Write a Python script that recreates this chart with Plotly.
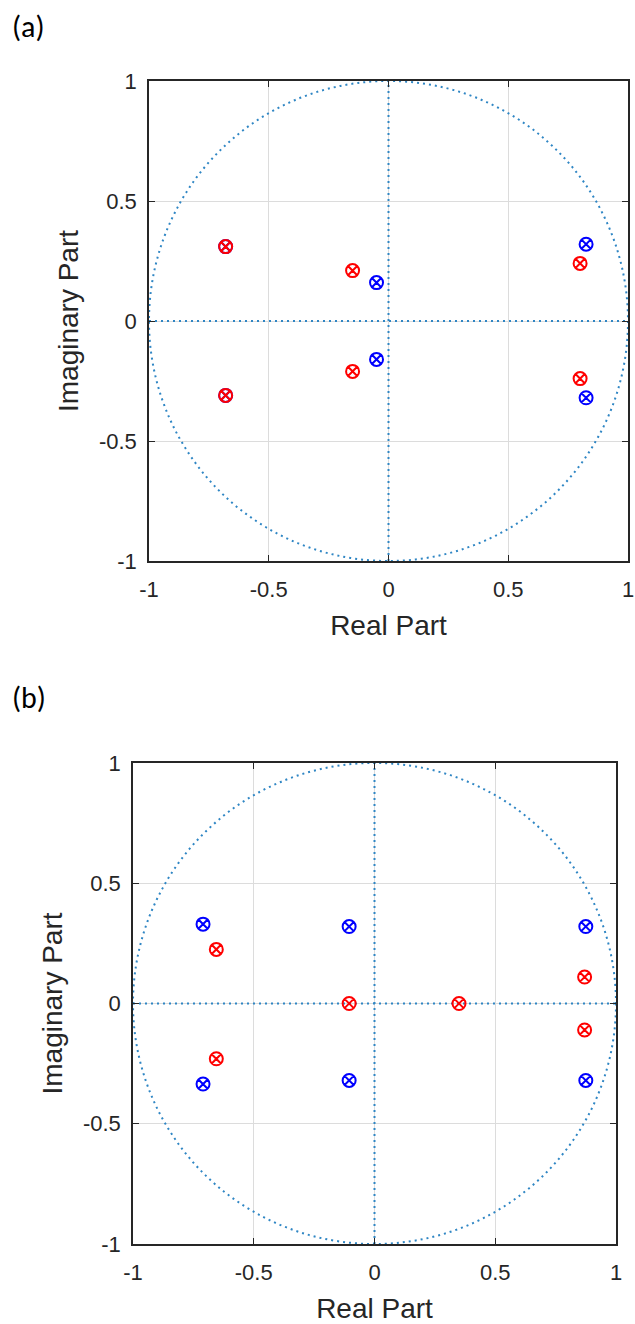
import plotly.graph_objects as go

# ---- data: pole/zero locations ----
a_blue_re = [0.825, 0.825, -0.05, -0.05, -0.68, -0.68]
a_blue_im = [0.32, -0.32, 0.16, -0.16, 0.31, -0.31]
a_red_re = [0.80, 0.80, -0.15, -0.15, -0.68, -0.68]
a_red_im = [0.24, -0.24, 0.21, -0.21, 0.31, -0.31]

b_blue_re = [-0.71, -0.71, -0.105, -0.105, 0.875, 0.875]
b_blue_im = [0.33, -0.335, 0.32, -0.32, 0.32, -0.32]
b_red_re = [-0.655, -0.655, -0.105, 0.35, 0.87, 0.87]
b_red_im = [0.225, -0.23, 0.0, 0.0, 0.11, -0.11]

tick_vals = [-1, -0.5, 0, 0.5, 1]
tick_text = ["-1", "-0.5", "0", "0.5", "1"]

W, H = 635, 1324
DOT = "#2f86c4"
FONT = "Liberation Sans, Arial, sans-serif"
DOTLINE = dict(color=DOT, width=2, dash="2px,4px")


def px_x(v):
    return v / W


def px_y(v):
    return 1 - v / H


fig = go.Figure()

panels = [
    dict(xa="x", ya="y", br=a_blue_re, bi=a_blue_im, rr=a_red_re, ri=a_red_im,
         box=(149, 628, 81, 561)),
    dict(xa="x2", ya="y2", br=b_blue_re, bi=b_blue_im, rr=b_red_re, ri=b_red_im,
         box=(133, 616, 763, 1244)),
]

for i, p in enumerate(panels):
    fig.add_trace(go.Scatter(x=p["br"], y=p["bi"], mode="markers", xaxis=p["xa"], yaxis=p["ya"],
                             marker=dict(symbol="circle-x-open", size=13, color="#0000ff",
                                         line=dict(width=2, color="#0000ff")),
                             showlegend=False))
    fig.add_trace(go.Scatter(x=p["rr"], y=p["ri"], mode="markers", xaxis=p["xa"], yaxis=p["ya"],
                             marker=dict(symbol="circle-x-open", size=13, color="#ff0000",
                                         line=dict(width=2, color="#ff0000")),
                             showlegend=False))
    # unit circle and dotted axes
    fig.add_shape(type="circle", xref=p["xa"], yref=p["ya"], x0=-1, x1=1, y0=-1, y1=1,
                  line=DOTLINE, layer="between")
    fig.add_shape(type="line", xref=p["xa"], yref=p["ya"], x0=-1, x1=1, y0=0, y1=0,
                  line=DOTLINE, layer="between")
    fig.add_shape(type="line", xref=p["xa"], yref=p["ya"], x0=0, x1=0, y0=-1, y1=1,
                  line=DOTLINE, layer="between")

    x0, x1, yt, yb = p["box"]
    axcommon = dict(range=[-1, 1], tickvals=tick_vals, ticktext=tick_text,
                    showgrid=True, gridcolor="#dcdcdc", gridwidth=1, zeroline=False,
                    showline=True, linecolor="#262626", linewidth=1.5, mirror="ticks",
                    ticks="inside", ticklen=6, tickcolor="#262626",
                    automargin=False, ticklabeloverflow="allow",
                    tickfont=dict(family=FONT, size=22, color="#262626"))
    xkey = "xaxis" if i == 0 else "xaxis2"
    ykey = "yaxis" if i == 0 else "yaxis2"
    fig.update_layout({
        xkey: dict(axcommon, domain=[px_x(x0), px_x(x1)], anchor=p["ya"], ticklabelstandoff=8,
                   title=dict(text="Real Part", font=dict(family=FONT, size=28, color="#262626"), standoff=14)),
        ykey: dict(axcommon, domain=[px_y(yb), px_y(yt)], anchor=p["xa"], ticklabelstandoff=6,
                   title=dict(text="Imaginary Part", font=dict(family=FONT, size=28, color="#262626"), standoff=12)),
    })

fig.add_annotation(text="(a)", x=px_x(10), y=px_y(26), xref="paper", yref="paper",
                   xanchor="left", yanchor="middle", showarrow=False,
                   font=dict(family="Carlito, Open Sans, sans-serif", size=30, color="#000000"))
fig.add_annotation(text="(b)", x=px_x(10), y=px_y(697), xref="paper", yref="paper",
                   xanchor="left", yanchor="middle", showarrow=False,
                   font=dict(family="Carlito, Open Sans, sans-serif", size=30, color="#000000"))

fig.update_layout(width=W, height=H, margin=dict(l=0, r=0, t=0, b=0),
                  paper_bgcolor="white", plot_bgcolor="white")

fig.write_html("out.html", config={"displayModeBar": False},
               post_script="document.body.style.margin='0';document.body.style.overflow='hidden';")
